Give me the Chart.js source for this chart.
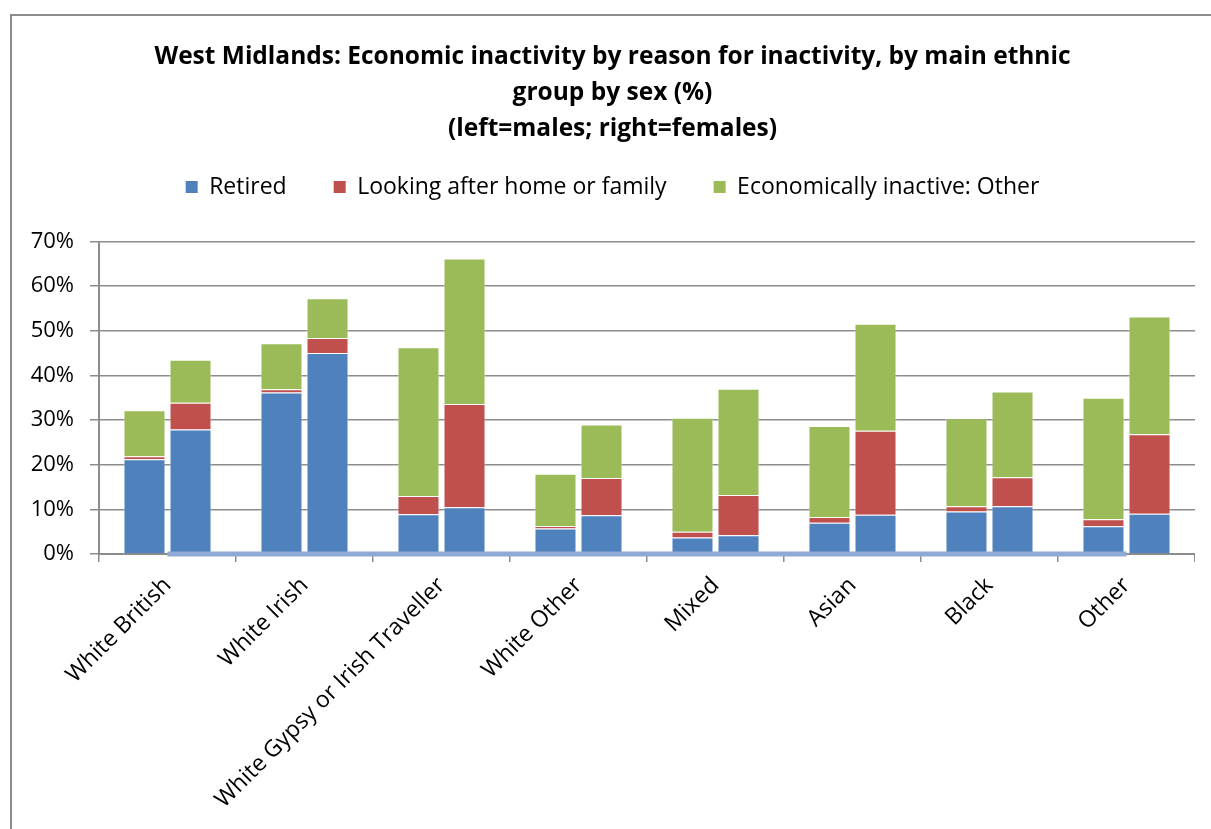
<!DOCTYPE html>
<html>
<head>
<meta charset="utf-8">
<script src="https://cdn.jsdelivr.net/npm/chart.js@4.4.1/dist/chart.umd.min.js"></script>
<style>
html,body{margin:0;padding:0;background:#fff;overflow:hidden}
#frame{position:absolute;left:10px;top:14px;width:1201px;height:815px;border-left:2px solid #8c8c8c;border-top:2px solid #8c8c8c}
canvas{display:block}
</style>
</head>
<body>
<div id="frame"><canvas id="chart" width="1183" height="813"></canvas></div>
<script>
// ethnic groups (x axis)
const groups = ['White British','White Irish','White Gypsy or Irish Traveller','White Other','Mixed','Asian','Black','Other'];
const seriesNames = ['Retired','Looking after home or family','Economically inactive: Other'];

// males (left bar of each pair), %
const retiredM = [21.2, 36.2, 8.9, 5.7, 3.7, 7.0, 9.5, 6.2];
const homeM    = [0.7, 0.7, 4.1, 0.6, 1.3, 1.3, 1.2, 1.6];
const otherM   = [10.3, 10.3, 33.3, 11.7, 25.5, 20.4, 19.7, 27.2];

// females (right bar of each pair), %
const retiredF = [27.9, 45.0, 10.5, 8.7, 4.2, 8.8, 10.7, 9.0];
const homeF    = [6.0, 3.4, 23.1, 8.3, 9.0, 18.8, 6.5, 17.8];
const otherF   = [9.6, 8.9, 32.6, 12.0, 23.8, 24.0, 19.2, 26.4];

// the light blue zero line running along the base
const baseline = [0, 0, 0, 0, 0, 0, 0, 0];

const yTicks = [0, 10, 20, 30, 40, 50, 60, 70];

const BLUE = '#4f81bd', RED = '#c0504d', GREEN = '#9bbb59';
const AXIS = '#8c8c8c';

Chart.defaults.font.family = '"Open Sans", Lato, sans-serif';
Chart.defaults.color = '#000';

// push the plot down below the legend
const legendGap = {
  id: 'legendGap',
  beforeInit(chart) {
    const fit = chart.legend.fit;
    chart.legend.fit = function() { fit.call(this); this.height += 33; };
  }
};

const barEdge = {borderColor: 'rgba(255,255,255,0.45)', borderWidth: 1};

new Chart(document.getElementById('chart'), {
  type: 'bar',
  data: {
    labels: groups,
    datasets: [
      {label: seriesNames[0], data: retiredM, backgroundColor: BLUE,  stack: 'm', ...barEdge},
      {label: seriesNames[1], data: homeM,    backgroundColor: RED,   stack: 'm', ...barEdge},
      {label: seriesNames[2], data: otherM,   backgroundColor: GREEN, stack: 'm', ...barEdge},
      {label: seriesNames[0], data: retiredF, backgroundColor: BLUE,  stack: 'f', ...barEdge},
      {label: seriesNames[1], data: homeF,    backgroundColor: RED,   stack: 'f', ...barEdge},
      {label: seriesNames[2], data: otherF,   backgroundColor: GREEN, stack: 'f', ...barEdge},
      {type: 'line', label: 'base', data: baseline, borderColor: '#8ea9d3', borderWidth: 5,
       pointRadius: 0, fill: false, order: -1, clip: false}
    ]
  },
  plugins: [legendGap],
  options: {
    responsive: false, animation: false,
    layout: {padding: {left: 18, right: 0, top: 0, bottom: 0}},
    datasets: {bar: {categoryPercentage: 0.672, barPercentage: 0.913}},
    plugins: {
      title: {display: true, color: '#000',
        text: ['West Midlands: Economic inactivity by reason for inactivity, by main ethnic', 'group by sex (%)', '(left=males; right=females)'],
        font: {size: 24.5, weight: 'bold', lineHeight: 36 / 24.5},
        padding: {top: 23, bottom: -18.5}},
      legend: {labels: {filter: it => it.datasetIndex < 3, boxWidth: 12, boxHeight: 12,
        padding: 47, font: {size: 23}, color: '#000',
        generateLabels: ch => Chart.defaults.plugins.legend.labels.generateLabels(ch)
          .map(l => ({...l, strokeStyle: l.fillStyle, lineWidth: 0}))}},
      tooltip: {enabled: false}
    },
    scales: {
      x: {stacked: true,
        grid: {offset: true, drawOnChartArea: false, color: AXIS, lineWidth: 1.5, tickLength: 8},
        border: {color: AXIS, width: 2},
        ticks: {minRotation: 45, maxRotation: 45, autoSkip: false, font: {size: 23}, padding: 10, color: '#000'},
        afterFit: s => { s.height = 275; }},
      y: {stacked: true, min: 0, max: 70,
        afterBuildTicks: s => { s.ticks = yTicks.map(v => ({value: v})); },
        ticks: {callback: v => v + '%', font: {size: 22}, padding: 16, color: '#000'},
        grid: {color: AXIS, lineWidth: 1.5, tickLength: 9},
        border: {color: AXIS, width: 2},
        afterFit: s => { s.width = 69; }}
    }
  }
});
</script>
</body>
</html>
